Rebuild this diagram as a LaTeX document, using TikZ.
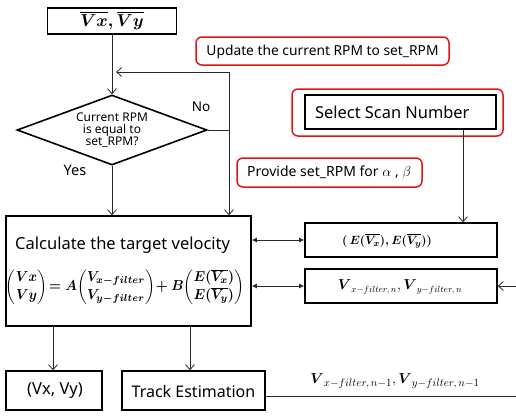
\documentclass[tikz,border=0pt]{standalone}
\usepackage{amsmath}
\usepackage{graphicx}
\usepackage{fontspec}
\setmainfont{Noto Sans}
\usetikzlibrary{shapes.geometric,arrows.meta}
\definecolor{redb}{RGB}{228,20,20}
\definecolor{lineg}{RGB}{40,40,40}
\tikzset{
  blackbox/.style={draw=black,line width=1.6pt,inner sep=0pt},
  redbox/.style={draw=redb,line width=1.5pt,rounded corners=6pt,inner sep=0pt},
  conn/.style={draw=lineg,line width=0.8pt},
  oarr/.style={conn,-{Straight Barb[length=5pt,width=9pt,line width=0.8pt]}},
  farr/.style={conn,{Latex[length=5pt,width=5pt]}-{Latex[length=5pt,width=5pt]}},
  txt/.style={inner sep=0pt}
}
\begin{document}
\begin{tikzpicture}[x=1pt,y=-1pt]
\useasboundingbox (0,0) rectangle (516,415);
% boxes
\node[blackbox,minimum width=129pt,minimum height=26pt,font=\fontsize{16}{18}\selectfont] (topbox) at (112,21) {$\boldsymbol{\overline{Vx},\overline{Vy}}$};
\node[draw=black,line width=1.6pt,diamond,minimum width=190pt,minimum height=70pt,inner sep=0pt] (dia) at (112,130) {};
\node[align=center,inner sep=0pt,font=\fontsize{12}{12}\selectfont] (diatext) at (112,130.5) {Current RPM\\is equal to\\set\_RPM?};
\node[blackbox,minimum width=245pt,minimum height=110pt] (calc) at (128.5,271) {};
\node[txt,anchor=west,font=\fontsize{16.5}{18}\selectfont] (calct) at (15,245) {Calculate the target velocity};
\node[inner sep=0pt] (formula) at (125,287) {\resizebox*{238pt}{36pt}{$\boldsymbol{\begin{pmatrix}Vx\\ Vy\end{pmatrix}\!=A\!\begin{pmatrix}V_{x-filter}\\ V_{y-filter}\end{pmatrix}\!+B\!\begin{pmatrix}E(\overline{V_x})\\ E(\overline{V_y})\end{pmatrix}}$}};
\node[redbox,minimum width=253pt,minimum height=28pt] (upd) at (322.5,51) {};
\node[txt,font=\fontsize{13.8}{15}\selectfont] (updt) at (322.5,52) {Update the current RPM to set\_RPM};
\node[redbox,minimum width=211pt,minimum height=47pt] (selo) at (397.5,112.5) {};
\node[blackbox,minimum width=191pt,minimum height=34pt] (sel) at (400.5,112) {};
\node[txt,anchor=west,font=\fontsize{16.4}{18}\selectfont] (selt) at (315,112.5) {Select Scan Number};
\node[redbox,minimum width=185pt,minimum height=29pt] (prov) at (329.5,172.5) {};
\node[txt,anchor=west,font=\fontsize{14}{16}\selectfont] (provt) at (247,173) {Provide set\_RPM for $\alpha$ , $\beta$};
\node[blackbox,minimum width=192pt,minimum height=34pt] (ebox) at (401,240) {};
\node[inner sep=0pt,font=\fontsize{12.5}{15}\selectfont] (et) at (387,241) {$\boldsymbol{(\,E(\overline{V_x}),E(\overline{V_y}))}$};
\node[blackbox,minimum width=192pt,minimum height=34pt] (vbox) at (401,286) {};
\node[inner sep=0pt,font=\fontsize{13.5}{16}\selectfont] (vt) at (400,287) {$\boldsymbol{V}_{x-filter,\,n}, \boldsymbol{V}_{y-filter,\,n}$};
\node[blackbox,minimum width=96pt,minimum height=39pt] (out) at (54,390.5) {};
\node[txt,font=\fontsize{16.5}{18}\selectfont] (outt) at (55,391) {(Vx, Vy)};
\node[blackbox,minimum width=143pt,minimum height=39pt] (track) at (193.5,390.5) {};
\node[txt,font=\fontsize{16}{18}\selectfont] (trackt) at (193.5,391) {Track Estimation};
\node[inner sep=0pt,font=\fontsize{15.5}{17}\selectfont] (lab) at (395,381) {$\boldsymbol{V}_{x-filter,\,n-1}, \boldsymbol{V}_{y-filter,\,n-1}$};
\node[inner sep=0pt,font=\fontsize{13.5}{15}\selectfont] (no) at (201,107) {No};
\node[inner sep=0pt,font=\fontsize{14.5}{16}\selectfont] (yes) at (75,170) {Yes};
% coordinates
\coordinate (j) at (229,130);
\coordinate (k) at (229,72);
\coordinate (m) at (116,72);
\coordinate (sx) at (463,0);
\coordinate (re) at (516,286);
\coordinate (te) at (516,396);
\coordinate (tx) at (190,0);
\coordinate (ox) at (53,0);
% connectors
\draw[oarr] (topbox.south) -- (dia.north);
\draw[oarr] (dia.east) -- (j) -- (k) -- (m);
\draw[oarr] (j) -- (j |- calc.north);
\draw[oarr] (dia.south) -- (dia.south |- calc.north);
\draw[oarr] (sel.south -| sx) -- (ebox.north -| sx);
\draw[farr] (ebox.west -| calc.east) -- (ebox.west);
\draw[farr] (vbox.west -| calc.east) -- (vbox.west);
\draw[oarr] (re) -- (vbox.east);
\draw[conn] (te -| track.east) -- (te);
\draw[oarr] (calc.south -| ox) -- (out.north -| ox);
\draw[oarr] (calc.south -| tx) -- (track.north -| tx);
\end{tikzpicture}
\end{document}
